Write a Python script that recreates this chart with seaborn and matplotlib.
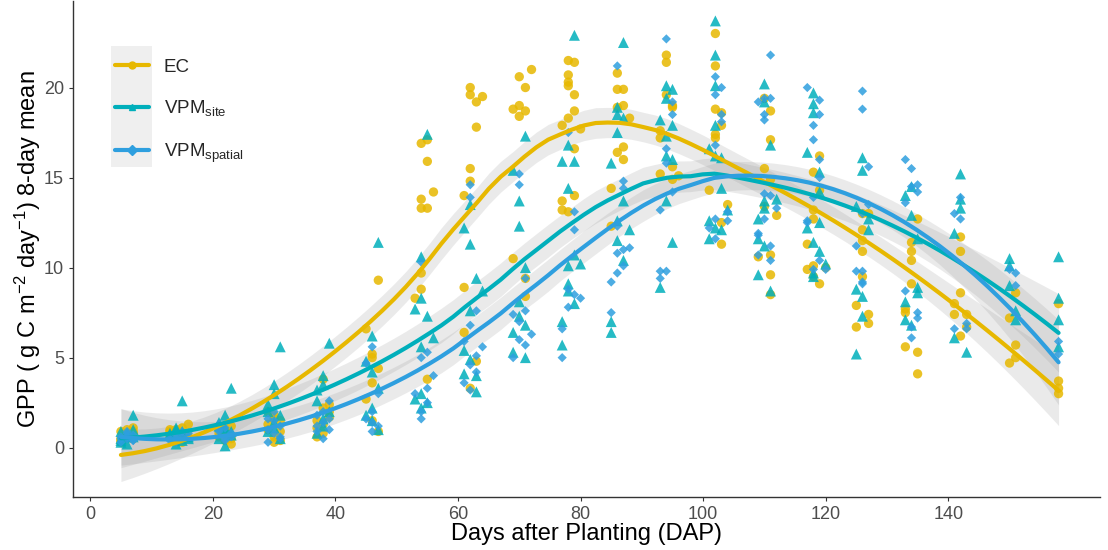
import numpy as np
import pandas as pd
import matplotlib
matplotlib.use("Agg")
import matplotlib.pyplot as plt
from matplotlib.lines import Line2D
from matplotlib.patches import Rectangle
import seaborn as sns

# ---- data (DAP, GPP 8-day mean) ----
ec_dap = [5, 5, 6, 6, 7, 7, 5, 7, 6, 5, 7, 6,
          13, 14, 15, 16, 14, 15, 13, 15, 16, 13, 14,
          21, 22, 23, 22, 23, 21, 22, 21, 23, 22,
          29, 30, 31, 29, 30, 31, 30, 29, 31, 30,
          38, 39, 38, 37, 37, 38, 39, 37, 38, 39,
          47, 45, 46, 46, 47, 46, 45, 46, 47,
          54, 55, 55, 54, 56, 54, 55, 54, 54, 53, 55,
          62, 62, 63, 64, 63, 62, 62, 61, 61, 61, 63, 62,
          70, 72, 71, 69, 70, 71, 70, 69, 71, 71,
          78, 79, 78, 78, 78, 79, 79, 78, 77, 80, 79, 79, 77, 77, 78,
          86, 86, 87, 86, 87, 88, 86, 87, 87, 85, 85,
          94, 94, 94, 95, 95, 93, 93, 95, 93, 95, 96,
          102, 102, 102, 103, 103, 102, 102, 101, 104, 103, 103,
          110, 111, 111, 110, 111, 110, 112, 109, 111, 111, 111,
          119, 118, 119, 118, 118, 117, 117, 118, 119, 120, 118,
          126, 127, 126, 126, 126, 126, 125, 127, 127, 125,
          135, 134, 134, 134, 134, 133, 133, 133, 135, 135,
          142, 142, 142, 141, 141, 143, 143, 142,
          151, 150, 151, 150, 151,
          158, 158, 158, 158]
ec_gpp = [0.9, 0.3, 0.6, 1.0, 0.8, 0.5, 0.5, 1.1, 0.7, 0.4, 0.9, 0.6,
          0.7, 1.0, 1.1, 1.3, 0.5, 0.3, 0.9, 0.8, 0.6, 1.0, 0.4,
          0.8, 1.0, 1.2, 0.4, 0.2, 0.6, 0.9, 1.1, 0.5, 0.7,
          2.0, 1.8, 1.5, 1.0, 0.6, 0.4, 0.3, 1.3, 0.9, 1.6,
          3.8, 2.4, 2.2, 1.5, 1.1, 0.8, 1.7, 0.6, 1.3, 2.0,
          9.3, 6.6, 5.2, 5.0, 4.4, 3.6, 2.7, 1.5, 0.9,
          16.9, 17.1, 15.9, 13.8, 14.2, 13.3, 13.3, 9.7, 8.8, 8.3, 3.8,
          20.0, 19.6, 19.2, 19.5, 17.8, 15.5, 14.8, 14.0, 8.9, 6.4, 4.8, 3.3,
          20.6, 21.0, 20.0, 18.8, 19.0, 18.7, 18.4, 10.5, 8.4, 9.4,
          21.5, 21.4, 20.7, 20.3, 20.1, 19.6, 18.7, 18.3, 17.9, 17.7, 16.6, 14.0, 13.7, 13.2, 13.1,
          20.8, 19.9, 19.9, 18.9, 19.0, 18.3, 16.4, 16.7, 16.0, 14.4, 12.3,
          21.8, 21.4, 19.6, 19.0, 18.9, 17.6, 17.2, 15.6, 15.2, 14.9, 15.1,
          23.0, 21.2, 18.8, 18.6, 17.9, 17.4, 17.2, 14.3, 13.5, 12.5, 11.3,
          19.4, 18.7, 17.1, 15.5, 14.9, 13.4, 12.9, 10.6, 10.7, 9.6, 8.5,
          16.2, 15.3, 14.3, 13.2, 12.7, 11.3, 9.9, 10.1, 9.1, 10.0, 9.5,
          13.0, 13.0, 12.1, 11.5, 10.9, 9.5, 7.9, 7.4, 6.9, 6.7,
          12.7, 11.4, 10.9, 10.4, 9.1, 7.7, 7.5, 5.6, 5.3, 4.1,
          11.7, 10.9, 8.6, 8.0, 7.4, 7.4, 6.7, 6.2,
          8.6, 7.2, 5.7, 4.7, 5.0,
          8.0, 3.7, 3.3, 3.0]

site_dap = [5, 5, 6, 7, 7, 6, 5, 6, 7, 5, 6,
            15, 13, 14, 16, 14, 15, 13, 16, 14, 15,
            23, 22, 21, 22, 23, 22, 21, 23, 21, 22,
            31, 30, 30, 29, 31, 30, 29, 31, 30, 29,
            39, 38, 38, 37, 39, 38, 37, 38, 37,
            47, 46, 45, 46, 47, 46, 45, 46, 47,
            55, 54, 54, 53, 55, 54, 56, 54, 55, 54, 53,
            62, 61, 62, 63, 64, 62, 61, 62, 61, 63, 63,
            71, 69, 70, 70, 71, 70, 70, 69, 69, 71, 71,
            79, 78, 77, 79, 78, 78, 79, 80, 78, 78, 79, 77, 77,
            87, 86, 86, 87, 86, 85, 87, 86, 88, 86, 87, 85, 85,
            94, 95, 94, 93, 94, 94, 95, 94, 95, 93, 95,
            102, 102, 102, 102, 101, 102, 103, 103, 101, 103, 104, 101, 102,
            110, 110, 111, 110, 110, 109, 109, 112, 110, 109, 111,
            118, 118, 118, 117, 119, 119, 117, 119, 118, 119, 120, 118, 118,
            126, 126, 125, 127, 127, 125, 126, 126, 125,
            133, 134, 134, 135, 135, 135, 133, 133, 134,
            142, 142, 142, 141, 141, 143,
            150, 150, 150, 151, 151,
            158, 158, 158, 158]
site_gpp = [0.9, 0.4, 0.7, 1.8, 0.6, 0.2, 0.5, 0.8, 1.0, 0.3, 0.6,
            2.6, 0.8, 1.0, 0.6, 0.2, 0.9, 0.7, 0.5, 1.1, 0.4,
            3.3, 1.8, 1.2, 1.0, 0.7, 0.1, 1.4, 0.9, 0.5, 1.1,
            5.6, 3.5, 3.0, 2.4, 1.8, 1.4, 0.9, 0.5, 1.1, 2.0,
            5.8, 4.0, 3.5, 3.2, 2.0, 1.2, 0.8, 1.6, 2.6,
            11.4, 6.2, 4.8, 4.2, 3.3, 2.2, 1.8, 1.5, 1.0,
            17.4, 10.6, 8.3, 7.7, 7.3, 5.6, 6.1, 3.0, 2.5, 2.2, 2.7,
            13.5, 12.2, 11.3, 9.4, 8.7, 7.6, 5.4, 4.9, 4.1, 3.1, 4.0,
            17.3, 15.4, 13.7, 12.3, 10.0, 8.1, 7.3, 6.4, 5.3, 5.0, 6.8,
            22.9, 16.8, 15.9, 15.9, 14.4, 10.1, 10.7, 10.2, 9.1, 8.7, 8.0, 7.0, 5.7,
            22.5, 18.9, 18.5, 18.3, 17.5, 15.8, 13.7, 12.6, 12.1, 11.5, 10.4, 7.0, 6.4,
            20.1, 19.9, 19.4, 18.2, 17.3, 16.2, 16.0, 13.7, 11.4, 8.9, 17.9,
            23.7, 21.8, 20.1, 17.9, 16.6, 16.2, 16.1, 14.4, 12.6, 12.1, 13.2, 11.6, 12.2,
            20.2, 19.2, 16.8, 13.7, 13.3, 12.7, 11.6, 13.8, 11.2, 9.6, 8.7,
            19.7, 19.1, 18.6, 16.4, 15.3, 14.2, 12.2, 12.5, 11.4, 10.9, 10.2, 9.7, 9.5,
            16.1, 15.4, 13.4, 12.7, 12.1, 8.8, 8.4, 7.3, 5.2,
            14.0, 14.5, 12.9, 11.6, 8.9, 8.6, 8.1, 7.1, 6.8,
            15.2, 13.8, 13.3, 11.9, 6.1, 5.3,
            10.5, 10.1, 9.0, 7.6, 7.1,
            10.6, 8.3, 7.1, 5.6]

spatial_dap = [5, 6, 6, 7, 5, 7, 5, 6, 7, 6,
               13, 14, 15, 16, 14, 13, 15, 16, 14,
               21, 22, 23, 22, 21, 23, 22, 21,
               29, 30, 31, 30, 29, 31, 30, 29, 31,
               39, 38, 39, 37, 38, 37, 38, 39, 37,
               46, 45, 47, 46, 45, 47, 46, 46,
               54, 55, 54, 56, 55, 53, 54, 55, 54,
               62, 62, 63, 62, 64, 61, 62, 61, 63, 62, 63,
               70, 70, 71, 71, 69, 70, 72, 71, 69, 70,
               78, 79, 79, 78, 79, 80, 78, 77, 77,
               86, 87, 87, 86, 87, 88, 86, 87, 86, 85, 85,
               94, 95, 95, 94, 94, 95, 93, 94, 93, 93,
               102, 103, 102, 103, 103, 102, 104, 102, 104, 101, 102,
               111, 110, 109, 111, 110, 110, 109, 109, 111, 111, 110, 112, 111, 110, 109,
               117, 119, 119, 118, 118, 119, 119, 118, 117, 119, 120, 117, 118,
               126, 126, 127, 127, 126, 125, 125, 126, 126, 126,
               133, 134, 134, 135, 135, 133, 133, 135, 135, 134, 134,
               142, 141, 142, 141, 143, 143,
               150, 151, 151,
               158, 158]
spatial_gpp = [0.6, 0.5, 0.9, 0.4, 0.3, 0.7, 0.5, 0.6, 0.4, 0.8,
               0.5, 0.7, 0.6, 0.8, 0.3, 0.4, 0.9, 0.6, 0.5,
               0.9, 1.1, 0.6, 0.4, 1.3, 0.8, 0.5, 1.0,
               1.6, 2.0, 1.2, 0.8, 0.3, 0.6, 1.5, 1.0, 0.5,
               2.6, 2.0, 1.6, 1.2, 0.5, 0.9, 1.4, 1.0, 1.8,
               5.6, 4.7, 3.0, 2.0, 1.6, 1.2, 0.9, 1.4,
               10.3, 5.3, 5.0, 4.0, 3.3, 3.0, 2.0, 2.5, 1.6,
               14.6, 13.9, 7.6, 6.8, 5.6, 5.9, 4.6, 3.6, 5.1, 3.2, 4.2,
               15.2, 14.6, 9.4, 7.6, 7.4, 7.0, 6.3, 5.7, 5.0, 6.0,
               17.5, 13.1, 12.1, 8.8, 8.5, 8.3, 7.8, 6.6, 5.0,
               21.2, 14.8, 14.4, 12.3, 11.0, 11.1, 10.8, 10.1, 9.7, 9.2, 7.5,
               22.7, 19.2, 18.5, 16.6, 15.8, 14.2, 13.2, 9.8, 9.8, 9.4,
               20.6, 20.0, 19.6, 18.5, 18.1, 16.8, 13.1, 12.7, 12.6, 12.2, 11.6,
               21.8, 19.4, 19.2, 19.4, 18.5, 18.2, 11.8, 10.7, 11.2, 10.4, 14.1, 13.3, 14.0, 12.7, 11.9,
               20.0, 19.3, 18.5, 17.9, 17.1, 16.0, 15.0, 13.9, 12.6, 10.4, 9.9, 12.5, 9.9,
               19.8, 18.8, 15.6, 13.5, 13.0, 11.2, 9.8, 9.8, 9.2, 9.1,
               16.0, 15.5, 14.5, 14.6, 14.2, 13.6, 8.7, 7.5, 7.2, 6.7, 6.1,
               13.9, 13.0, 12.7, 6.6, 6.9, 6.6,
               9.9, 9.7, 9.0,
               5.9, 5.2]

series_names = ["EC", "VPM_site", "VPM_spatial"]
series_labels = ["EC", r"VPM$_\mathregular{site}$", r"VPM$_\mathregular{spatial}$"]
palette = {"EC": "#E7B800", "VPM_site": "#00AFBB", "VPM_spatial": "#2E9FDF"}
markers = {"EC": "o", "VPM_site": "^", "VPM_spatial": "D"}
marker_size = {"EC": 45, "VPM_site": 62, "VPM_spatial": 22}

df = pd.concat([
    pd.DataFrame({"series": "EC", "DAP": ec_dap, "GPP": ec_gpp}),
    pd.DataFrame({"series": "VPM_site", "DAP": site_dap, "GPP": site_gpp}),
    pd.DataFrame({"series": "VPM_spatial", "DAP": spatial_dap, "GPP": spatial_gpp}),
], ignore_index=True)


def loess_fit(x, y, grid, span=0.75):
    # local quadratic loess (tricube weights) with pointwise 95% band
    x = np.asarray(x, float)
    y = np.asarray(y, float)
    n = len(x)
    q = int(np.floor(n * span))

    def weights_row(x0):
        d = np.abs(x - x0)
        h = np.sort(d)[q - 1]
        w = np.clip(1 - (d / h) ** 3, 0, None) ** 3
        X = np.column_stack([np.ones(n), x - x0, (x - x0) ** 2])
        A = X.T @ (w[:, None] * X)
        return np.linalg.solve(A, (X * w[:, None]).T)[0]

    L = np.array([weights_row(v) for v in x])
    M = np.eye(n) - L
    d1 = np.trace(M.T @ M)
    sigma2 = np.sum((M @ y) ** 2) / d1
    G = np.array([weights_row(v) for v in grid])
    fit = G @ y
    se = np.sqrt(sigma2 * np.sum(G ** 2, axis=1))
    return fit, fit - 1.97 * se, fit + 1.97 * se


sns.set_style("white")
plt.rcParams["font.family"] = ["Liberation Sans", "DejaVu Sans"]
plt.rcParams["mathtext.fontset"] = "custom"
plt.rcParams["mathtext.rm"] = "Liberation Sans"

fig = plt.figure(figsize=(11.08, 5.5), dpi=100)
ax = fig.add_axes([0.066, 0.096, 0.927, 0.902])

fits = {}
for name in series_names:
    sub = df[df.series == name]
    grid = np.linspace(sub.DAP.min(), sub.DAP.max(), 80)
    fit, lo, hi = loess_fit(sub.DAP, sub.GPP, grid)
    fits[name] = (grid, fit)
    ax.fill_between(grid, lo, hi, color="0.6", alpha=0.2, lw=0, zorder=1)

for name in series_names:
    sns.scatterplot(data=df[df.series == name], x="DAP", y="GPP", ax=ax,
                    color=palette[name], marker=markers[name], s=marker_size[name],
                    alpha=0.85, edgecolor="none", legend=False, zorder=2)

for name in series_names:
    grid, fit = fits[name]
    sns.lineplot(x=grid, y=fit, ax=ax, color=palette[name], lw=3, zorder=3)

ax.set_xlim(-2.8, 164.8)
ax.set_ylim(-2.75, 24.8)
ax.set_xticks(range(0, 141, 20))
ax.set_yticks([0, 5, 10, 15, 20])
ax.tick_params(axis="both", labelsize=13, labelcolor="#4D4D4D", colors="#333333",
               length=3, width=0.8, direction="out", bottom=True, left=True)
ax.tick_params(labelcolor="#4D4D4D")
for side in ["top", "right"]:
    ax.spines[side].set_visible(False)
for side in ["left", "bottom"]:
    ax.spines[side].set_color("#333333")
    ax.spines[side].set_linewidth(1.0)

ax.set_xlabel("Days after Planting (DAP)", fontsize=17, color="black", labelpad=0)
ax.set_ylabel(r"GPP ( g C m$\mathregular{^{-2}}$ day$\mathregular{^{-1}}$) 8-day mean",
              fontsize=17, color="black", labelpad=1)

# legend: keys on a light grey panel
fig.patches.append(Rectangle((0.1002, 0.6964), 0.037, 0.22, transform=fig.transFigure,
                             facecolor="#EFEFEF", edgecolor="none", zorder=0))
handles = [Line2D([], [], color=palette[n], lw=3, marker=markers[n], markersize=5)
           for n in series_names]
fig.legend(handles, series_labels, loc="upper left", bbox_to_anchor=(0.104, 0.893),
           frameon=False, fontsize=13.5, handlelength=1.8, handletextpad=0.8,
           labelspacing=1.2, borderpad=0, borderaxespad=0)

fig.savefig("out.png", dpi=100)
